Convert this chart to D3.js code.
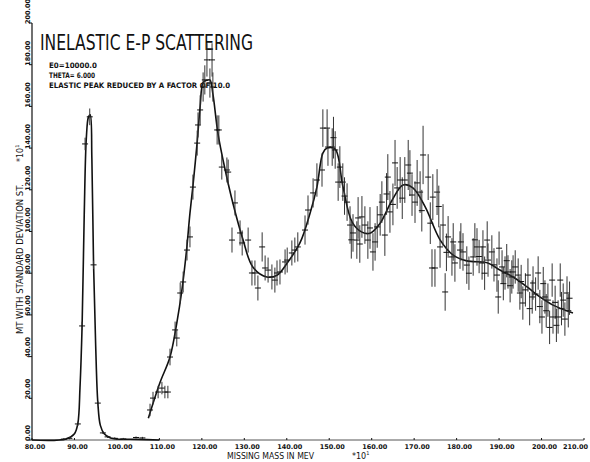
<!DOCTYPE html>
<html lang="en">

<head>
  <meta charset="UTF-8">
  <title>Inelastic e-p scattering</title>
  <script src="https://d3js.org/d3.v7.min.js"></script>
  <style>
    body {
      margin: 0;
      background: #fff;
    }

    text {
      fill: #111;
    }
  </style>
</head>

<body>
  <div class="chartContainer"></div>

  <script>
    // tick values
    const xTicks = [80, 90, 100, 110, 120, 130, 140, 150, 160, 170, 180, 190, 200, 210]
    const yTicks = [0, 20, 40, 60, 80, 100, 120, 140, 160, 180, 200]

    // elastic peak (reduced by 10)
    const elasticX = [87.5, 88.8, 90.8, 91.8, 92.5, 93.6, 94.5, 95.5, 96.7, 97.8, 99.5, 101.5, 104.5, 106.0]
    const elasticY = [0.4, 0.8, 7.7, 54.7, 142, 155, 84, 17.7, 3.4, 1.5, 0.8, 0.5, 1.2, 1.0]
    const elasticErr = [0.5, 0.5, 1, 2, 3, 4, 2, 1, 0.5, 0.5, 0.5, 0.5, 0.5, 0.5]

    // elastic fit
    const elasticFitX = [80, 88, 90, 90.8, 91.3, 91.8, 92.3, 92.8, 93.3, 93.7, 94.1, 94.5, 95.0, 95.5, 96.1, 97.0, 98.5, 100, 105, 110]
    const elasticFitY = [0, 0.5, 3, 8, 25, 55, 108, 145, 155, 156, 135, 84, 45, 18, 7, 3, 1, 0.5, 0.3, 0]

    // inelastic data points
    const massX = [107.8, 108.5, 109.7, 110.6, 111.3, 112.0, 112.5, 113.7, 114.1, 114.9, 115.6, 116.5, 117.2,
      117.9, 118.9, 119.1, 119.6, 120.3, 120.7, 121.2, 121.9, 122.4, 122.6, 123.6, 124.0, 124.7, 125.9, 126.2,
      127.1, 127.8, 129.0, 129.5, 130.9, 131.8, 132.5, 133.2, 134.2, 134.9, 135.6, 136.5, 137.2, 137.7, 138.4,
      139.6, 140.1, 141.2, 141.9, 142.6, 144.3, 145.0, 146.2, 147.1, 148.3, 148.5, 149.5, 149.7,
      150.7, 151.0, 151.4, 152.1, 152.5, 153.2, 153.6, 154.2, 154.9, 155.2, 155.6, 156.5, 156.8, 157.2, 157.7,
      158.4, 159.1, 159.6, 160.3, 160.8, 161.3, 162.0, 162.4, 163.1, 163.5, 163.8, 164.3, 165.0, 165.5, 166.0,
      166.7, 167.2, 167.8, 168.6, 169.0, 169.5, 170.2, 170.7, 171.4, 171.8, 172.1, 173.3, 173.8, 174.2, 174.4,
      174.9, 175.4, 175.8, 176.1, 176.8, 177.3, 177.6, 178.0, 178.9, 179.2, 179.6, 180.8, 181.0, 181.5, 182.4,
      182.9, 183.9, 184.3, 184.8, 185.3, 186.0, 186.2, 186.6, 187.2, 187.4, 188.3, 188.8, 189.5, 189.8, 190.0,
      190.7, 191.0, 191.4, 191.8, 192.1, 192.6, 193.0, 193.3, 193.8, 194.5, 194.9, 195.2, 195.6, 196.2, 196.8,
      197.2, 197.8, 198.0, 198.6, 199.2, 199.6, 200.1, 200.4, 200.8, 201.1, 201.5, 201.9, 202.5, 202.7, 203.2,
      203.5, 203.9, 204.4, 204.7, 205.1, 205.5, 206.0, 206.3, 206.6]
    const sigmaY = [14.4, 20.1, 23.0, 24.9, 23.0, 23.0, 39.8, 52.8, 48.9, 70.5, 75.8, 91.1, 97.4,
      121.3, 142.4, 151.1, 158.3, 169.3, 172.7, 182.3, 171.2, 182.3, 169.3, 148.7, 148.7, 130.9, 129.5, 128.5,
      95.9, 113.7, 99.3, 94.5, 95.9, 80.1, 80.1, 72.9, 92.6, 82.5, 81.5, 78.2, 76.7, 80.1, 80.6,
      85.4, 86.3, 89.7, 91.1, 92.6, 100.7, 110.3, 118.5, 124.7, 129.5, 149.6, 149.6, 140.5,
      140.5, 145.0, 139.1, 123.7, 130.9, 123.7, 117.0, 114.1, 103.1, 96.0, 99.3, 95.9, 106.5, 94.0, 107.0,
      103.1, 95.9, 101.7, 90.2, 95.0, 102.2, 108.0, 114.1, 98.3, 118.0, 126.1, 109.4, 113.0, 132.9, 120.9,
      124.7, 116.0, 124.7, 131.9, 128.0, 117.5, 114.1, 123.3, 118.9, 110.0, 136.7, 126.1, 104.0, 82.5, 116.5,
      82.5, 118.9, 112.0, 92.6, 103.1, 71.0, 90.0, 97.4, 87.8, 95.0, 84.9, 91.1, 95.0, 90.2, 83.9,
      80.0, 87.8, 96.0, 92.6, 88.0, 84.9, 92.6, 80.0, 95.9, 86.3, 90.2, 84.0, 79.1, 68.6, 92.0,
      83.0, 75.0, 80.1, 86.0, 80.6, 74.0, 78.2, 80.6, 83.0, 79.1, 70.5, 76.0, 65.7, 72.0, 79.1,
      63.0, 68.6, 75.3, 70.0, 80.1, 64.0, 59.0, 75.0, 68.6, 62.0, 67.1, 54.0, 76.7, 59.0, 66.0,
      55.0, 59.0, 76.7, 63.0, 67.1, 58.0, 70.5, 62.0, 68.0]
    const sigmaErr = [3, 3, 3, 3, 3, 3, 4, 4, 4, 5, 5, 5, 5,
      6, 6, 6, 7, 7, 7, 8, 7, 8, 7, 7, 7, 6, 6, 6,
      6, 6, 6, 6, 6, 6, 6, 6, 7, 6, 6, 6, 6, 6, 6,
      6, 6, 6, 6, 7, 7, 7, 7, 8, 8, 9, 9, 9,
      9, 10, 9, 9, 10, 9, 9, 9, 9, 9, 9, 9, 10, 9, 10,
      9, 9, 10, 9, 9, 10, 10, 10, 10, 10, 11, 10, 10, 11, 10,
      11, 10, 11, 12, 11, 10, 10, 11, 10, 10, 14, 11, 10, 9, 11,
      9, 11, 10, 10, 10, 9, 9, 10, 9, 9, 9, 9, 9, 9, 9,
      8, 9, 8, 9, 8, 8, 8, 8, 9, 8, 8, 8, 8, 8, 8,
      8, 8, 8, 8, 8, 8, 8, 8, 8, 8, 8, 8, 8, 8, 8,
      8, 8, 8, 8, 8, 8, 8, 8, 8, 8, 8, 8, 8, 8, 8,
      8, 8, 8, 8, 8, 8, 8, 8, 8]

    // fitted curve through the inelastic region
    const fitX = [107.4, 110.1, 112.5, 114.1, 115.3, 116.4, 117.2, 117.9, 118.9, 119.6, 120.3, 121.1, 121.9,
      122.6, 123.8, 125.5, 127.3, 129.7, 132.0, 135.3, 137.7, 140.1, 143.1, 145.5, 147.1, 148.5, 149.5, 151.4,
      153.2, 155.4, 157.7, 159.6, 162.0, 164.8, 167.4, 169.7, 172.6, 176.1, 179.2, 182.4, 187.2, 190.2, 193.3,
      196.6, 199.6, 202.7, 207.4]
    const fitY = [10.4, 27.3, 39.8, 56.1, 71.9, 91.1, 108.8, 121.8, 142.9, 160.0, 171.5, 172.5, 172.7,
      166.0, 147.0, 129.5, 113.7, 96.0, 83.0, 78.2, 79.0, 84.9, 94.5, 108.9, 121.3, 137.6, 140.0, 139.5,
      121.8, 104.5, 99.7, 99.2, 104.0, 115.0, 122.3, 120.9, 111.8, 96.0, 88.7, 85.9, 85.0, 81.5, 78.2,
      73.4, 68.6, 64.7, 60.9]

    const width = 590
    const height = 462

    const svg = d3.select('.chartContainer')
      .append('svg')
      .attr('width', width)
      .attr('height', height)
      .style('display', 'block')

    svg.append('rect')
      .attr('width', width)
      .attr('height', height)
      .attr('fill', '#fff')

    const x = d3.scaleLinear().domain([80, 210]).range([32, 584])
    const y = d3.scaleLinear().domain([0, 200]).range([440, 23])

    const tickFont = 'DejaVu Sans'

    // axes lines
    svg.append('line')
      .attr('x1', x(80)).attr('x2', x(80))
      .attr('y1', y(0)).attr('y2', y(200))
      .attr('stroke', '#111').attr('stroke-width', 1.2)
    svg.append('line')
      .attr('x1', x(80)).attr('x2', x(210))
      .attr('y1', y(0)).attr('y2', y(0))
      .attr('stroke', '#555').attr('stroke-width', 1)

    // y ticks
    svg.selectAll('.ytick')
      .data(yTicks)
      .enter()
      .append('line')
      .attr('x1', x(80) - 3).attr('x2', x(80))
      .attr('y1', d => y(d)).attr('y2', d => y(d))
      .attr('stroke', '#111')

    svg.selectAll('.ylab')
      .data(yTicks)
      .enter()
      .append('text')
      .attr('transform', d => `translate(30,${y(d) + 1}) rotate(-90)`)
      .attr('font-family', tickFont)
      .attr('font-weight', 'bold')
      .attr('font-size', 6.5)
      .text(d => d.toFixed(2))

    // x ticks
    svg.selectAll('.xtick')
      .data(xTicks)
      .enter()
      .append('line')
      .attr('x1', d => x(d)).attr('x2', d => x(d))
      .attr('y1', y(0)).attr('y2', y(0) - 2)
      .attr('stroke', '#111')

    // last label kept inside the frame
    svg.selectAll('.xlab')
      .data(xTicks)
      .enter()
      .append('text')
      .attr('x', (d, i) => i === xTicks.length - 1 ? 588 : x(d) + 3)
      .attr('y', 449)
      .attr('text-anchor', (d, i) => i === xTicks.length - 1 ? 'end' : 'middle')
      .attr('font-family', tickFont)
      .attr('font-weight', 'bold')
      .attr('font-size', 6.5)
      .text(d => d.toFixed(2))

    // axis titles
    svg.append('text')
      .attr('x', 227).attr('y', 459)
      .attr('font-family', tickFont)
      .attr('font-size', 9)
      .attr('textLength', 87)
      .attr('lengthAdjust', 'spacingAndGlyphs')
      .text('MISSING MASS IN MEV')
    const xPow = svg.append('text')
      .attr('x', 352).attr('y', 459)
      .attr('font-family', tickFont)
      .attr('font-size', 8)
    xPow.append('tspan').text('*10')
    xPow.append('tspan').attr('dy', -4).attr('font-size', 5).text('1')

    svg.append('text')
      .attr('transform', 'translate(23,334) rotate(-90)')
      .attr('font-family', tickFont)
      .attr('font-size', 9)
      .attr('textLength', 150)
      .attr('lengthAdjust', 'spacingAndGlyphs')
      .text('MT WITH STANDARD DEVIATION ST.')
    const yPow = svg.append('text')
      .attr('transform', 'translate(23,162) rotate(-90)')
      .attr('font-family', tickFont)
      .attr('font-size', 8)
    yPow.append('tspan').text('*10')
    yPow.append('tspan').attr('dy', -4).attr('font-size', 5).text('1')

    // title and notes
    svg.append('text')
      .attr('x', 40).attr('y', 50)
      .attr('font-family', tickFont)
      .attr('font-size', 20.5)
      .attr('textLength', 213)
      .attr('lengthAdjust', 'spacingAndGlyphs')
      .text('INELASTIC E-P SCATTERING')

    const notes = ['E0=10000.0', 'THETA= 6.000', 'ELASTIC PEAK REDUCED BY A FACTOR OF 10.0']
    const noteLen = [48, 46, 181]
    svg.selectAll('.note')
      .data(notes)
      .enter()
      .append('text')
      .attr('x', 49)
      .attr('y', (d, i) => 68 + i * 10)
      .attr('font-family', tickFont)
      .attr('font-weight', 'bold')
      .attr('font-size', 7.5)
      .attr('textLength', (d, i) => noteLen[i])
      .attr('lengthAdjust', 'spacingAndGlyphs')
      .text(d => d)

    // fit curves
    const line = d3.line()
      .x(d => x(d[0]))
      .y(d => y(d[1]))
      .curve(d3.curveCatmullRom)

    svg.append('path')
      .datum(elasticFitX.map((v, i) => [v, elasticFitY[i]]))
      .attr('d', line)
      .attr('fill', 'none')
      .attr('stroke', '#111')
      .attr('stroke-width', 1.6)

    svg.append('path')
      .datum(fitX.map((v, i) => [v, fitY[i]]))
      .attr('d', line)
      .attr('fill', 'none')
      .attr('stroke', '#111')
      .attr('stroke-width', 1.6)

    // data points with error bars
    const points = elasticX.map((v, i) => ({ m: v, s: elasticY[i], e: elasticErr[i] }))
      .concat(massX.map((v, i) => ({ m: v, s: sigmaY[i], e: sigmaErr[i] })))

    const marks = svg.selectAll('.pt')
      .data(points)
      .enter()
      .append('g')

    marks.append('line')
      .attr('x1', d => x(d.m)).attr('x2', d => x(d.m))
      .attr('y1', d => y(d.s - d.e)).attr('y2', d => y(d.s + d.e))
      .attr('stroke', '#333')
      .attr('stroke-width', 1)

    marks.append('line')
      .attr('x1', d => x(d.m) - 3).attr('x2', d => x(d.m) + 3)
      .attr('y1', d => y(d.s)).attr('y2', d => y(d.s))
      .attr('stroke', '#111')
      .attr('stroke-width', 1)
  </script>
</body>

</html>
